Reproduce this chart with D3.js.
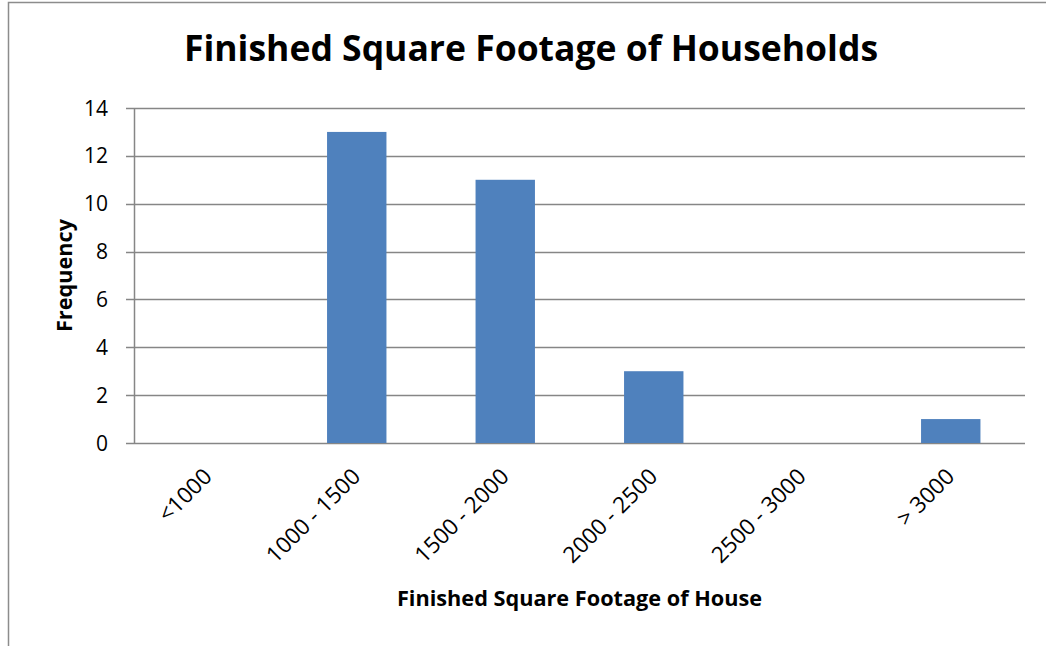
<!DOCTYPE html>
<html>
<head>
<meta charset="utf-8">
<script src="https://cdn.jsdelivr.net/npm/d3@7"></script>
<style>
  body { margin: 0; background: #fff; }
  text { font-family: "Open Sans", sans-serif; fill: #000; }
</style>
</head>
<body>
<script>
const categories = ['<1000', '1000 - 1500', '1500 - 2000', '2000 - 2500', '2500 - 3000', '> 3000'];
const frequency = [0, 13, 11, 3, 0, 1];
const yTicks = [0, 2, 4, 6, 8, 10, 12, 14];

const svg = d3.select('body')
  .append('svg')
  .attr('width', 1046)
  .attr('height', 646);

const margin = { top: 108, right: 21, bottom: 203, left: 134 };
const width = 1046 - margin.left - margin.right;
const height = 646 - margin.top - margin.bottom;

// outer chart frame
svg.append('rect')
  .attr('x', 8.5)
  .attr('y', 2.5)
  .attr('width', 1100)
  .attr('height', 700)
  .attr('fill', 'none')
  .attr('stroke', '#8c8c8c')
  .attr('stroke-width', 1.5);

const xScale = d3.scaleBand().domain(categories).range([0, width]).paddingInner(0.6).paddingOuter(0.3);
const yScale = d3.scaleLinear().domain([0, 14]).range([height, 0]);

const g = svg.append('g')
  .attr('transform', 'translate(' + margin.left + ',' + margin.top + ')');

// gridlines
g.selectAll('.grid')
  .data(yTicks)
  .enter()
  .append('line')
  .attr('x1', -8)
  .attr('x2', width)
  .attr('y1', d => Math.round(yScale(d)) + 0.5)
  .attr('y2', d => Math.round(yScale(d)) + 0.5)
  .attr('stroke', '#868686')
  .attr('stroke-width', 1.5);

// bars
g.selectAll('rect.bar')
  .data(frequency)
  .enter()
  .append('rect')
  .attr('class', 'bar')
  .attr('x', (d, i) => xScale(categories[i]))
  .attr('y', d => yScale(d))
  .attr('width', xScale.bandwidth())
  .attr('height', d => height - yScale(d))
  .attr('fill', '#4F81BD');

// y axis line
g.append('line')
  .attr('x1', 0.5).attr('x2', 0.5)
  .attr('y1', 0).attr('y2', height)
  .attr('stroke', '#868686')
  .attr('stroke-width', 1.5);

// y tick labels
g.selectAll('.ylab')
  .data(yTicks)
  .enter()
  .append('text')
  .attr('x', -26)
  .attr('y', d => yScale(d))
  .attr('dy', '0.36em')
  .attr('text-anchor', 'end')
  .style('font-size', '21px')
  .text(d => d);

// x tick labels
g.selectAll('.xlab')
  .data(categories)
  .enter()
  .append('text')
  .attr('text-anchor', 'end')
  .attr('transform', d => 'translate(' + (xScale(d) + xScale.bandwidth() / 2 + 5) + ',' + (height + 35) + ') rotate(-45)')
  .style('font-size', '22.5px')
  .text(d => d);

// title
svg.append('text')
  .attr('x', 531)
  .attr('y', 61)
  .attr('text-anchor', 'middle')
  .style('font-size', '35.5px')
  .style('font-weight', 'bold')
  .text('Finished Square Footage of Households');

// x axis title
svg.append('text')
  .attr('x', margin.left + width / 2)
  .attr('y', 606)
  .attr('text-anchor', 'middle')
  .style('font-size', '21.7px')
  .style('font-weight', 'bold')
  .text('Finished Square Footage of House');

// y axis title
svg.append('text')
  .attr('transform', 'translate(72,' + (margin.top + height / 2) + ') rotate(-90)')
  .attr('text-anchor', 'middle')
  .style('font-size', '21.7px')
  .style('font-weight', 'bold')
  .text('Frequency');
</script>
</body>
</html>
